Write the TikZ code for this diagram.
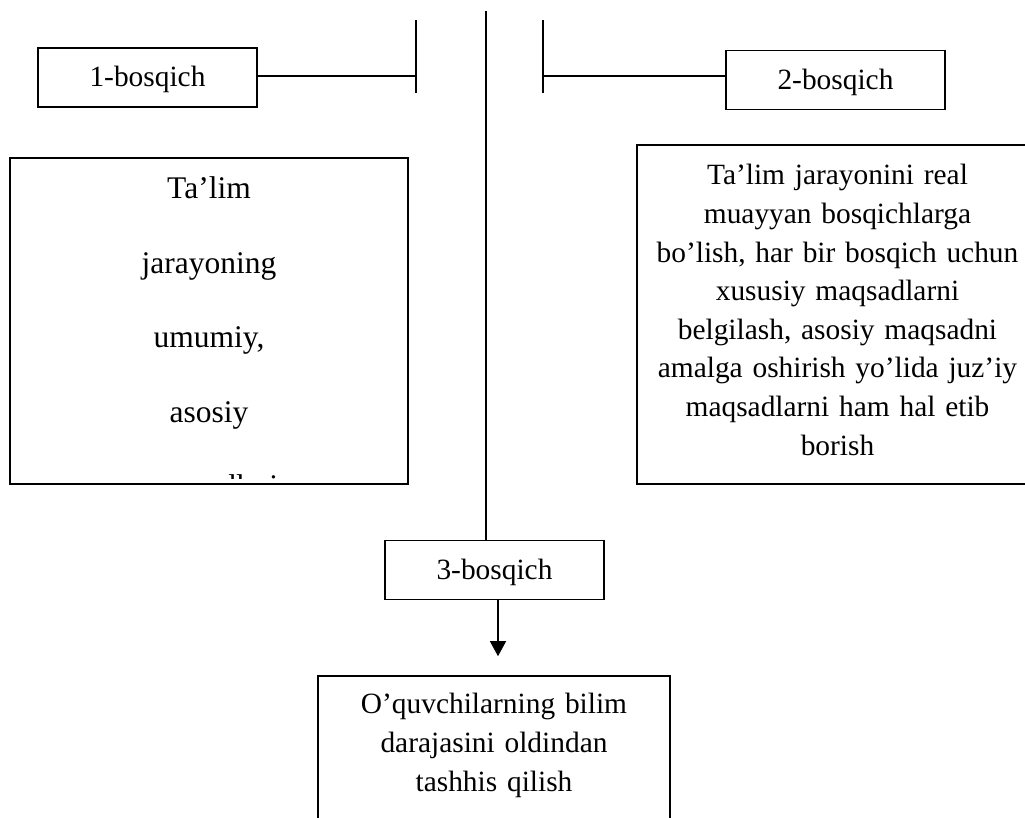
\documentclass[tikz,border=0pt]{standalone}
\usepackage{fontspec}
\setmainfont{Liberation Serif}
\usepackage{tikz}
\usetikzlibrary{arrows.meta,positioning}
\tikzset{
  basic/.style  = {draw, line width=0.8pt, rectangle, inner sep=0pt},
  stage/.style  = {basic, minimum width=109.5pt, minimum height=29.5pt,
                   text height=12.5pt, text depth=3.2pt,
                   font=\fontsize{14.7}{19.3}\selectfont},
  frame/.style  = {basic},
  body/.style   = {align=center, inner sep=0pt, anchor=north, text width=190pt,
                   font=\fontsize{14.7}{19.3}\selectfont},
  link/.style   = {line width=0.65pt}
}

\begin{document}
\begin{tikzpicture}[x=0.5pt,y=-0.5pt]
\useasboundingbox (0,0) rectangle (1025,818);
\clip (0,0) rectangle (1025,818);
\node[stage] (s1) at (147.5,77.5) {1-bosqich};
\node[stage] (s2) at (835.5,80) {2-bosqich};
\node[stage] (s3) at (494.5,570) {3-bosqich};
\node[frame, minimum width=199pt, minimum height=163pt] (f1) at (209,321) {};
\node[frame, minimum width=200.5pt, minimum height=169.5pt] (f2) at (837.5,314.5) {};
\node[frame, minimum width=176pt, minimum height=87pt] (f3) at (494,763) {};
\begin{scope}
  \clip (f1.north west) rectangle ([yshift=3pt]f1.south east);
  \node[body, font=\fontsize{15.75}{37.25}\selectfont] (t1) at ([yshift=-9.7pt]f1.north)
    {Ta’lim\\jarayoning\\umumiy,\\asosiy\\maqsadlari};
\end{scope}
\node[body] (t2) at ([yshift=-10pt]f2.north) {Ta’lim jarayonini real\\
  muayyan bosqichlarga\\bo’lish, har bir bosqich uchun\\xususiy maqsadlarni\\
  belgilash, asosiy maqsadni\\amalga oshirish yo’lida juz’iy\\
  maqsadlarni ham hal etib\\borish};
\node[body, font=\fontsize{14.7}{19.5}\selectfont] (t3) at ([yshift=-9pt]f3.north)
  {O’quvchilarning bilim\\darajasini oldindan\\tashhis qilish};
\coordinate (top) at (486,11);
\coordinate (arm) at (0,76);
\coordinate (bar1a) at (416,20);
\coordinate (bar1b) at (416,93);
\coordinate (bar2a) at (543,20);
\coordinate (bar2b) at (543,93);
\coordinate (a3) at ([xshift=1.75pt]s3.south);
\draw[link] (top) -- (top |- s3.north);
\draw[link] (bar1a) -- (bar1b);
\draw[link] (bar2a) -- (bar2b);
\draw[link] (s1.east |- arm) -- (bar1a |- arm);
\draw[link] (bar2a |- arm) -- (s2.west |- arm);
\draw[link, -{Triangle[length=7.5pt, width=8pt]}, shorten >=9.5pt] (a3) -- (a3 |- f3.north);
\end{tikzpicture}
\end{document}
